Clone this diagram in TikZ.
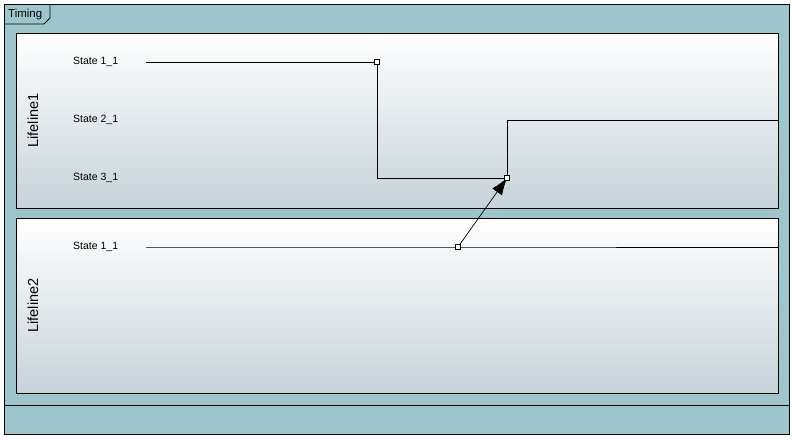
\documentclass[tikz,border=0pt]{standalone}
\usepackage{fontspec}
\setmainfont{Liberation Sans}
\usepackage{tikz}
\usetikzlibrary{calc,arrows.meta}
\definecolor{frame}{HTML}{9DC6CC}
\definecolor{shadelow}{HTML}{C6D3D9}
\definecolor{ink}{HTML}{000000}
\tikzset{
  lane/.style={draw=ink, line width=0.9pt, top color=white, bottom color=shadelow},
  track/.style={draw=ink, line width=0.9pt},
  msg/.style={draw=ink, line width=0.7pt, -{Latex[length=17pt,width=12pt]}},
  knot/.style={rectangle, draw=ink, fill=white, line width=0.6pt, inner sep=0pt, minimum size=4.5pt},
  st/.style={anchor=west, font=\fontsize{10.5}{12}\selectfont, inner sep=0pt},
  lname/.style={rotate=90, font=\fontsize{14.5}{16}\selectfont, inner sep=0pt},
}
\begin{document}
\begin{tikzpicture}[x=1pt,y=-1pt]
  \useasboundingbox (0,0) rectangle (794,440);
  % outer frame
  \draw[track, line width=1pt, fill=frame] (4,4) rectangle (789,434);
  \draw[track, line width=1pt] (4,405) -- (789,405);
  \draw[track, line width=0.8pt] (4,24) -- (44,24) -- (50,18) -- (50,4);
  \node[anchor=south west, inner sep=0pt, font=\fontsize{11.5}{13}\selectfont] (title) at (8,20) {Timing};
  % lifelines
  \draw[lane] (16,33) rectangle (778,208);
  \draw[lane] (16,218) rectangle (778,393);
  \node[lname] (ll1) at (33,120.5) {Lifeline1};
  \node[lname] (ll2) at (33,305.5) {Lifeline2};
  % state labels
  \node[st] (s11) at (73,62) {State 1\_1};
  \node[st] (s21) at (73,120) {State 2\_1};
  \node[st] (s31) at (73,178) {State 3\_1};
  \node[st] (t11) at (73,247) {State 1\_1};
  % state changes
  \coordinate (a0) at (146,62);
  \coordinate (a1) at (377,62);
  \coordinate (a2) at (377,178);
  \coordinate (a3) at (507,178);
  \coordinate (a4) at (507,120);
  \coordinate (a5) at (778,120);
  \coordinate (b0) at (146,247);
  \coordinate (b1) at (458,247);
  \coordinate (b2) at (778,247);
  \draw[track] (a0) -- (a1) -- (a2) -- (a3) -- (a4) -- (a5);
  \draw[track] (b0) -- (b1) -- (b2);
  \draw[msg] (b1) -- (a3);
  \node[knot] (k1) at (a1) {};
  \node[knot] (k2) at (a3) {};
  \node[knot] (k3) at (b1) {};
\end{tikzpicture}
\end{document}
